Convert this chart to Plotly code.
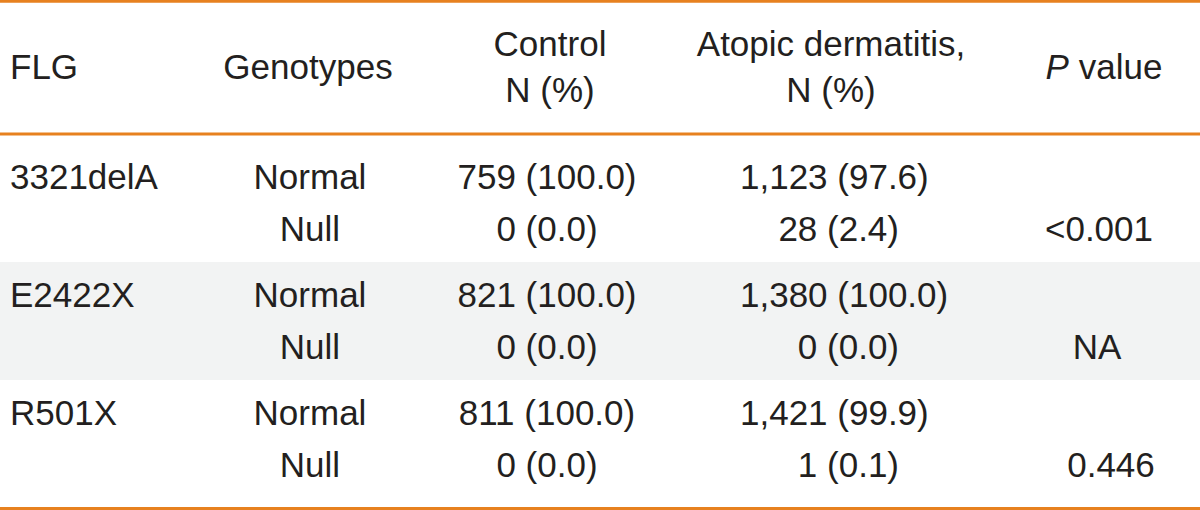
import plotly.graph_objects as go

# ---- data ----
flg_variants = ["3321delA", "E2422X", "R501X"]
genotypes = ["Normal", "Null"]
control_n = [[759, 0], [821, 0], [811, 0]]
control_pct = [[100.0, 0.0], [100.0, 0.0], [100.0, 0.0]]
ad_n = [[1123, 28], [1380, 0], [1421, 1]]
ad_pct = [[97.6, 2.4], [100.0, 0.0], [99.9, 0.1]]
p_values = ["<0.001", "NA", "0.446"]
headers = ["FLG", "Genotypes", "Control<br>N (%)", "Atopic dermatitis,<br>N (%)", "<i>P</i> value"]

# ---- layout / style ----
W, H = 1200, 510
FONT = "Liberation Sans, Arial, sans-serif"
FS = 35
TXT = "#231F20"
ORANGE = "#E7811F"
BAND = "#F2F3F3"

row_top = [134, 262, 380]
row_bot = [262, 380, 508]
line1_y = [180, 298, 416]
line2_y = [232, 350, 468]
col_flg_x = 10
col_geno_x = 310
col_ctrl_x = 547
col_ad_left = 740
col_ad_right = 899
pval_x = [1099, 1097, 1111]


def fmt(n, p):
    return f"{n:,} ({p:.1f})"


fig = go.Figure()


def add_text(xs, ys, texts, pos):
    fig.add_trace(go.Scatter(
        x=xs, y=ys, text=texts, mode="text", textposition=pos,
        textfont=dict(family=FONT, size=FS, color=TXT),
        hoverinfo="skip", showlegend=False, cliponaxis=False,
    ))


# header
add_text([col_flg_x], [70], [headers[0]], "middle right")
add_text([308, 550, 831, 1104], [70, 70, 70, 70], headers[1:], "middle center")

# body
for i, var in enumerate(flg_variants):
    add_text([col_flg_x], [line1_y[i]], [var], "middle right")
    add_text([col_geno_x, col_geno_x], [line1_y[i], line2_y[i]], genotypes, "middle center")
    add_text([col_ctrl_x, col_ctrl_x], [line1_y[i], line2_y[i]],
             [fmt(control_n[i][0], control_pct[i][0]), fmt(control_n[i][1], control_pct[i][1])],
             "middle center")
    add_text([col_ad_left], [line1_y[i]], [fmt(ad_n[i][0], ad_pct[i][0])], "middle right")
    add_text([col_ad_right], [line2_y[i]], [fmt(ad_n[i][1], ad_pct[i][1])], "middle left")
    add_text([pval_x[i]], [line2_y[i]], [p_values[i]], "middle center")

shapes = []
# grey band for middle row
shapes.append(dict(type="rect", xref="x", yref="y", x0=0, x1=W, y0=row_top[1], y1=row_bot[1],
                   fillcolor=BAND, line=dict(width=0), layer="below"))
for y in [1.3, 134, 508.5]:
    shapes.append(dict(type="line", xref="x", yref="y", x0=0, x1=W, y0=y, y1=y,
                       line=dict(color=ORANGE, width=3)))

fig.update_layout(
    width=W, height=H,
    margin=dict(l=0, r=0, t=0, b=0),
    paper_bgcolor="white", plot_bgcolor="white",
    xaxis=dict(range=[0, W], visible=False, fixedrange=True),
    yaxis=dict(range=[H, 0], visible=False, fixedrange=True),
    shapes=shapes,
)

fig.write_html("out.html", config={"displayModeBar": False},
               post_script="document.body.style.margin='0';document.body.style.overflow='hidden';")
